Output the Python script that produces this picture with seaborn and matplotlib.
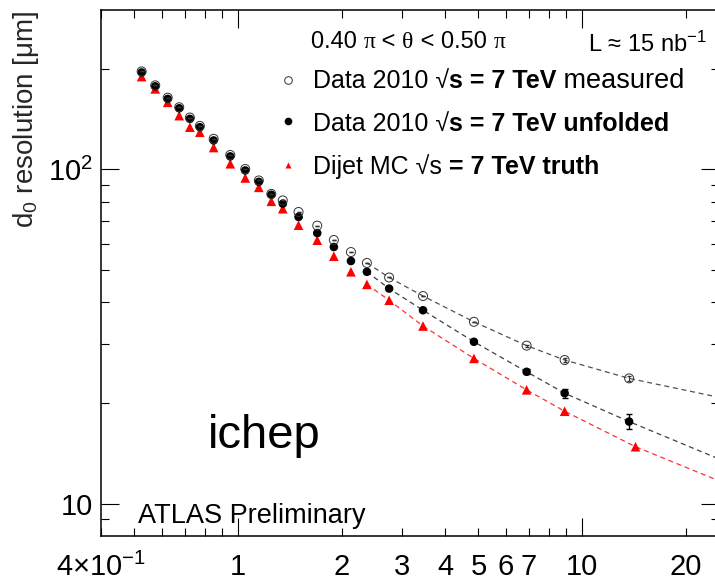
import matplotlib
matplotlib.use("Agg")
import matplotlib.pyplot as plt
import pandas as pd
import seaborn as sns
from matplotlib.ticker import FixedLocator, FuncFormatter, NullFormatter

# Track transverse momentum bin centres [GeV]
pt = [0.525, 0.575, 0.625, 0.675, 0.725, 0.775, 0.85, 0.95, 1.05, 1.15, 1.25, 1.35,
      1.5, 1.7, 1.9, 2.13, 2.37, 2.75, 3.45, 4.85, 6.9, 8.9, 13.7]
truth_pt = [0.525, 0.575, 0.625, 0.675, 0.725, 0.775, 0.85, 0.95, 1.05, 1.15, 1.25, 1.35,
            1.5, 1.7, 1.9, 2.13, 2.37, 2.75, 3.45, 4.85, 6.9, 8.9, 14.3]

# d0 resolution [um]
measured = [196.5, 178.5, 164.0, 153.5, 143.0, 135.0, 123.5, 110.5, 100.3, 92.7, 84.5, 80.8,
            74.6, 67.9, 61.5, 56.6, 52.5, 47.5, 41.8, 35.0, 29.7, 26.9, 23.7]
measured_err = [0, 0, 0, 0, 0, 0, 0, 0, 0, 0, 0, 0,
                0, 0, 0, 0, 0, 0, 0, 0, 0.2, 0.3, 0.4]
unfolded = [195.1, 177.3, 162.6, 152.4, 141.7, 133.8, 122.1, 109.4, 99.3, 91.8, 84.0, 79.0,
            72.1, 64.5, 58.6, 53.2, 49.4, 44.0, 37.9, 30.5, 24.8, 21.4, 17.6]
unfolded_err = [0, 0, 0, 0, 0, 0, 0, 0, 0, 0, 0, 0,
                0, 0, 0, 0, 0, 0, 0, 0.3, 0.4, 0.7, 0.9]
truth = [189.6, 174.2, 158.8, 144.9, 133.8, 129.2, 116.3, 104.0, 94.3, 88.4, 80.3, 76.3,
         68.1, 61.4, 55.0, 49.4, 45.3, 40.6, 34.0, 27.2, 21.9, 18.9, 14.8]

# High-pT fitted resolution curves
fit_pt = [2.37, 2.75, 3.45, 4.85, 6.9, 8.9, 13.7, 25.0]
fit_measured = [52.5, 47.5, 41.8, 35.0, 29.7, 26.9, 23.7, 20.8]
fit_unfolded = [49.4, 44.0, 37.9, 30.5, 24.8, 21.4, 17.6, 13.6]
fit_truth_pt = [2.37, 2.75, 3.45, 4.85, 6.9, 8.9, 14.3, 25.0]
fit_truth = [45.3, 40.6, 34.0, 27.2, 21.9, 18.9, 14.8, 11.7]

x_ticks_labelled = {0.4: r"4$\times$10$^{-1}$", 1: "1", 2: "2", 3: "3", 4: "4", 5: "5",
                    6: "6", 7: "7", 10: "10", 20: "20"}

sns.set_theme(style="ticks")
SANS = ["Liberation Sans", "DejaVu Sans"]
SERIF = ["Liberation Serif", "DejaVu Serif"]
plt.rcParams["font.family"] = SANS
plt.rcParams["mathtext.fontset"] = "custom"
plt.rcParams["mathtext.rm"] = "Liberation Sans"
plt.rcParams["mathtext.it"] = "Liberation Sans:italic"
plt.rcParams["mathtext.bf"] = "Liberation Sans:bold"

df = pd.DataFrame({"pt": pt, "truth_pt": truth_pt, "measured": measured,
                   "unfolded": unfolded, "truth": truth})
fits = pd.DataFrame({"pt": fit_pt, "measured": fit_measured, "unfolded": fit_unfolded,
                     "truth_pt": fit_truth_pt, "truth": fit_truth})

W, H = 715, 583
fig = plt.figure(figsize=(W / 100, H / 100), dpi=100)
ax = fig.add_axes([101 / W, 47 / H, 618 / W, 526 / H])
ax.set_xscale("log")
ax.set_yscale("log")
ax.set_xlim(0.4, 25)
ax.set_ylim(8, 300)

dash = (0, (4, 3))
sns.lineplot(data=fits, x="truth_pt", y="truth", ax=ax, color="#ff3030", lw=0.9,
             linestyle=dash, sort=False, zorder=2)
sns.lineplot(data=fits, x="pt", y="unfolded", ax=ax, color="#404040", lw=0.9,
             linestyle=dash, sort=False, zorder=2)
sns.lineplot(data=fits, x="pt", y="measured", ax=ax, color="#505050", lw=0.9,
             linestyle=dash, sort=False, zorder=2)

sns.scatterplot(data=df, x="truth_pt", y="truth", ax=ax, marker="^", color="red",
                s=48, edgecolor="none", zorder=3)
ax.errorbar(pt, unfolded, yerr=unfolded_err, fmt="none", ecolor="black", elinewidth=1.0,
            capsize=2, zorder=4)
sns.scatterplot(data=df, x="pt", y="unfolded", ax=ax, marker="o", color="black",
                s=38, edgecolor="none", zorder=4)
ax.errorbar(pt, measured, yerr=measured_err, fmt="none", ecolor="#333333", elinewidth=0.8,
            capsize=1.5, zorder=5)
sns.scatterplot(data=df, x="pt", y="measured", ax=ax, marker="o", facecolor="none",
                edgecolor="#333333", linewidth=0.7, s=42, zorder=5)

ax.set_xlabel("")
ax.set_ylabel(r"d$_{0}$ resolution [μm]", fontsize=20)
ax.yaxis.set_label_coords(-0.097, 0.792)

# axis ticks: long at decades, short elsewhere, labelled at selected values
ax.xaxis.set_major_locator(FixedLocator([1, 10]))
ax.xaxis.set_minor_locator(FixedLocator([0.4, 0.5, 0.6, 0.7, 0.8, 0.9, 2, 3, 4, 5, 6, 7,
                                         8, 9, 20]))
fmt = FuncFormatter(lambda v, p: x_ticks_labelled.get(round(v, 3) if v < 1 else int(round(v)), ""))
ax.xaxis.set_major_formatter(fmt)
ax.xaxis.set_minor_formatter(fmt)
ax.yaxis.set_major_locator(FixedLocator([10, 100]))
ax.yaxis.set_minor_locator(FixedLocator([9, 20, 30, 40, 50, 60, 70, 80, 90, 200]))
ax.yaxis.set_major_formatter(FuncFormatter(lambda v, p: "10" if v < 50 else r"10$^{2}$"))
ax.yaxis.set_minor_formatter(NullFormatter())

ax.tick_params(which="both", direction="in", top=True, right=True, width=0.8,
               colors="black", labelsize=21)
ax.tick_params(which="major", length=13)
ax.tick_params(which="minor", length=5.5)
ax.tick_params(axis="x", which="both", pad=12)
ax.tick_params(axis="y", which="both", pad=6)
for sp in ax.spines.values():
    sp.set_linewidth(1.1)
    sp.set_color("black")

fig.canvas.draw()
renderer = fig.canvas.get_renderer()


def ax_xy(px, py):
    return (px - 101) / 618, (536 - py) / 526


def text_run(px, py, pieces):
    x, y = ax_xy(px, py)
    for s, weight, size, family in pieces:
        t = ax.text(x, y, s, transform=ax.transAxes, fontsize=size, fontweight=weight,
                    family=family, ha="left", va="baseline", color="black")
        x += t.get_window_extent(renderer).width / ax.bbox.width


text_run(311, 48, [("0.40 ", "normal", 17, SANS), ("π", "normal", 17, SERIF),
                   (" < ", "normal", 17, SANS), ("θ", "normal", 17, SERIF),
                   (" < 0.50 ", "normal", 17, SANS), ("π", "normal", 17, SERIF)])
text_run(588, 52, [(r"L ≈ 15 nb$^{-1}$", "normal", 17, SANS)])

LS = 18
rows = [
    (80, 88, "o", "none", [("Data 2010 √", "normal", LS, SANS),
                           ("s = 7 TeV", "bold", LS, SANS),
                           (" measured", "normal", 19.5, SANS)]),
    (121, 131, "o", "black", [("Data 2010 √", "normal", LS, SANS),
                              ("s = 7 TeV unfolded", "bold", LS, SANS)]),
    (165, 174, "^", "red", [("Dijet MC √s", "normal", LS, SANS),
                            (" = 7 TeV truth", "bold", LS, SANS)]),
]
for my, base, mk, fc, pieces in rows:
    mx, myy = ax_xy(288, my)
    if mk == "^":
        ax.plot([mx], [myy], marker=mk, color="red", markersize=5, mec="none",
                transform=ax.transAxes, clip_on=False)
    elif fc == "none":
        ax.plot([mx], [myy], marker=mk, mfc="none", mec="#333333", mew=0.7, markersize=5.5,
                transform=ax.transAxes, clip_on=False)
    else:
        ax.plot([mx], [myy], marker=mk, color="black", markersize=5.5, mec="none",
                transform=ax.transAxes, clip_on=False)
    text_run(313, base, pieces)

text_run(208, 448, [("ichep", "normal", 34, SANS)])
text_run(138, 523, [("ATLAS Preliminary", "normal", 19.5, SANS)])

fig.savefig("out.png", dpi=100)
